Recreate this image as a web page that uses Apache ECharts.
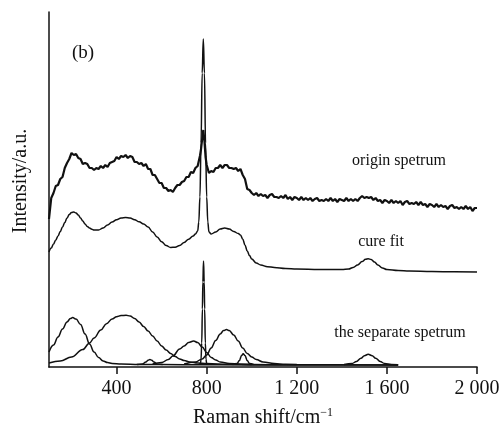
<!DOCTYPE html>
<html>
<head>
<meta charset="utf-8">
<script src="https://cdn.jsdelivr.net/npm/echarts@6/dist/echarts.min.js"></script>
<style>
html,body{margin:0;padding:0;background:#fff;}
#chart{width:504px;height:428px;}
</style>
</head>
<body>
<div id="chart"></div>
<script>
// x-axis tick positions (Raman shift, cm^-1)
const ramanTicks = [400, 800, 1200, 1600, 2000];

// origin spectrum (measured, noisy)
const originSpectrum = [[100,148],[110,169],[120,174],[130,181],[140,182],[150,188],[160,190],[170,199],[180,204],[190,208],[200,214],[210,212],[220,213],[230,209],[240,208],[250,203],[260,204],[270,203],[280,199],[290,199],[300,197],[310,199],[320,198],[330,201],[340,199],[350,202],[360,200],[370,204],[380,205],[390,206],[400,210],[410,208],[420,211],[430,210],[440,212],[450,209],[460,211],[470,210],[480,205],[490,205],[500,203],[510,204],[520,201],[530,203],[540,198],[550,198],[560,192],[570,192],[580,188],[590,184],[600,184],[610,179],[620,179],[630,176],[640,177],[650,175],[660,179],[670,182],[680,182],[690,185],[700,186],[710,190],[720,190],[730,195],[740,194],[750,199],[760,201],[770,211],[775,218],[780,228],[785,237],[790,226],[795,210],[800,202],[810,194],[820,196],[830,195],[840,199],[850,199],[860,202],[870,199],[880,202],[890,202],[900,199],[910,199],[920,198],[930,199],[940,196],[950,198],[960,192],[970,188],[980,178],[990,177],[1000,174],[1010,172],[1020,174],[1030,171],[1040,173],[1050,171],[1060,172],[1070,169],[1080,172],[1090,173],[1100,170],[1110,170],[1120,169],[1130,171],[1140,169],[1150,172],[1160,168],[1170,170],[1180,167],[1190,170],[1200,169],[1210,167],[1220,170],[1230,167],[1240,169],[1250,167],[1260,169],[1270,166],[1280,168],[1290,169],[1300,166],[1310,167],[1320,166],[1330,168],[1340,166],[1350,169],[1360,166],[1370,168],[1380,165],[1390,168],[1400,167],[1410,166],[1420,169],[1430,166],[1440,168],[1450,166],[1460,168],[1470,166],[1480,169],[1490,171],[1500,169],[1510,170],[1520,169],[1530,170],[1540,167],[1550,169],[1560,166],[1570,167],[1580,164],[1590,167],[1600,166],[1610,164],[1620,167],[1630,164],[1640,166],[1650,164],[1660,166],[1670,162],[1680,165],[1690,166],[1700,163],[1710,164],[1720,163],[1730,165],[1740,162],[1750,165],[1760,162],[1770,163],[1780,160],[1790,163],[1800,162],[1810,160],[1820,163],[1830,160],[1840,162],[1850,160],[1860,161],[1870,158],[1880,161],[1890,162],[1900,159],[1910,160],[1920,158],[1930,160],[1940,158],[1950,161],[1960,158],[1970,160],[1980,156],[1990,159],[2000,159]];

// cure fit (sum of fitted peaks, offset)
const cureFit = [[100,115],[110,119],[120,123],[130,127],[140,131],[150,135.5],[160,140],[170,144.5],[180,149],[190,152.5],[200,154.5],[210,155],[220,154],[230,152],[240,149],[250,146],[260,143],[270,140.5],[280,139],[290,137.8],[300,137],[320,137],[340,139],[360,142],[380,145],[400,147.3],[420,149],[440,149.5],[460,149],[480,147.3],[500,145.2],[520,143],[540,140],[560,135],[580,130],[600,125.3],[620,121.5],[640,119.5],[660,119.8],[680,121.5],[700,124.5],[720,127.8],[740,131],[750,133],[760,136],[765,145],[770,170],[775,224],[780,294],[785,328],[790,294],[795,224],[800,170],[805,145],[810,135],[820,133],[840,135],[860,138],[880,139],[900,138],[920,135.5],[940,133.5],[950,132],[960,128],[970,122],[980,116],[990,111.5],[1000,108],[1020,104],[1040,102],[1070,100.3],[1100,99.5],[1150,98.5],[1200,98],[1300,97.5],[1400,97.5],[1430,98],[1450,99.5],[1470,102],[1490,105.5],[1505,107.7],[1517,108.3],[1530,107.5],[1545,105],[1560,102],[1580,99],[1600,97.5],[1650,96.5],[1700,96],[1800,95.5],[1900,95.2],[2000,95]];

// separated component peaks
const peak1 = [[100,15],[120,22],[140,30],[160,38],[180,45],[195,48.5],[205,49.4],[220,48],[240,42.5],[260,33],[280,23],[300,15],[320,9.5],[340,6],[360,4.5],[380,3.6],[420,3],[500,2.6],[700,2.3],[1000,2.1],[1650,2]];
const peak2 = [[100,4],[150,6],[200,10],[250,17.5],[280,24],[300,29],[330,37],[355,43.3],[380,48],[400,50.3],[420,51.4],[442,51.8],[460,51],[480,48.5],[500,45],[520,40.5],[540,36],[560,31],[580,26],[600,21],[620,17],[640,13.5],[660,10.5],[680,8],[700,6.5],[725,5],[760,4],[800,3.4],[900,2.8],[1000,2.5],[1200,2.2],[1650,2]];
const peak3 = [[490,2.5],[515,3],[530,5],[540,6.8],[548,7.4],[556,6.8],[566,5],[580,3],[605,2.5]];
const peak4 = [[560,3],[600,4.5],[630,7.5],[650,11],[680,18],[700,21],[720,24.5],[742,26],[760,24.5],[780,20],[800,14.5],[820,9.5],[840,7],[860,5],[900,3.5],[950,2.8],[1000,2.5]];
const peak5 = [[768,2.5],[772,3.3],[775,7.7],[778,24],[781,58],[783,85],[786,106],[789,85],[791,58],[794,24],[797,7.7],[800,3.3],[804,2.5]];
const peak6 = [[700,3],[750,5],[780,8],[800,12],[820,19],[840,26.5],[860,33],[875,36.5],[888,37.4],[900,36.5],[920,32],[940,26],[960,19],[980,13.5],[1000,10],[1020,7.5],[1050,5],[1100,3.4],[1150,2.8],[1200,2.5]];
const peak7 = [[915,2.5],[935,3.5],[945,6.5],[955,11.5],[962,13.3],[970,11.5],[980,6.5],[990,3.5],[1008,2.5]];
const peak8 = [[1410,2.5],[1445,3.5],[1465,5.5],[1485,8.8],[1500,11.3],[1517,12.7],[1535,11.3],[1550,8.8],[1570,5.5],[1590,3.5],[1620,2.5],[1650,2.3]];

const curveLabels = ['origin spetrum', 'cure fit', 'the separate spetrum'];
const panelLabel = '(b)';
const yTitle = 'Intensity/a.u.';

const serif = '"Liberation Serif", "Times New Roman", serif';
const ink = '#111';

function lineSeries(data, width, smooth) {
  return {
    type: 'line', data: data, showSymbol: false, symbol: 'none',
    smooth: smooth, smoothMonotone: 'x',
    lineStyle: { color: ink, width: width }, silent: true, animation: false
  };
}

const chart = echarts.init(document.getElementById('chart'), null, { renderer: 'canvas' });
chart.setOption({
  backgroundColor: '#fff',
  animation: false,
  grid: { left: 49, right: 27, top: 12, bottom: 61, containLabel: false, outerBoundsMode: 'none' },
  xAxis: {
    type: 'value', min: 100, max: 2000,
    name: '{a|Raman shift/cm}{s|\u22121}',
    nameLocation: 'middle', nameGap: 40,
    nameTextStyle: {
      rich: {
        a: { fontFamily: serif, fontSize: 20, color: ink },
        s: { fontFamily: serif, fontSize: 12, color: ink, verticalAlign: 'top', padding: [0, 0, 10, 0] }
      }
    },
    axisLine: { show: true, lineStyle: { color: ink, width: 1.6 } },
    axisTick: { show: true, customValues: ramanTicks, length: 7, inside: false, lineStyle: { color: ink, width: 1.5 } },
    axisLabel: {
      customValues: ramanTicks, margin: 12, fontFamily: serif, fontSize: 20, color: ink,
      formatter: function (v) { return v >= 1000 ? String(v).replace(/(\d)(\d{3})$/, '$1 $2') : String(v); }
    },
    splitLine: { show: false }
  },
  yAxis: {
    type: 'value', min: 0, max: 355,
    axisLine: { show: true, lineStyle: { color: ink, width: 1.5 } },
    axisTick: { show: false }, axisLabel: { show: false }, splitLine: { show: false }
  },
  series: [
    lineSeries(originSpectrum, 2.2, false),
    lineSeries(cureFit, 1.5, 0.4),
    lineSeries(peak1, 1.5, 0.4),
    lineSeries(peak2, 1.5, 0.4),
    lineSeries(peak3, 1.5, 0.4),
    lineSeries(peak4, 1.5, 0.4),
    lineSeries(peak5, 1.5, 0.4),
    lineSeries(peak6, 1.5, 0.4),
    lineSeries(peak7, 1.5, 0.4),
    lineSeries(peak8, 1.5, 0.4)
  ],
  graphic: [
    { type: 'text', x: 21, y: 181, rotation: Math.PI / 2, style: { text: yTitle, font: '20px ' + serif, fill: ink, align: 'center', verticalAlign: 'middle' } },
    { type: 'text', x: 83, y: 53, style: { text: panelLabel, font: '19px ' + serif, fill: ink, align: 'center', verticalAlign: 'middle' } },
    { type: 'text', x: 399, y: 161, style: { text: curveLabels[0], font: '16px ' + serif, fill: ink, align: 'center', verticalAlign: 'middle' } },
    { type: 'text', x: 381, y: 242, style: { text: curveLabels[1], font: '16px ' + serif, fill: ink, align: 'center', verticalAlign: 'middle' } },
    { type: 'text', x: 400, y: 333, style: { text: curveLabels[2], font: '16px ' + serif, fill: ink, align: 'center', verticalAlign: 'middle' } }
  ]
});
</script>
</body>
</html>
